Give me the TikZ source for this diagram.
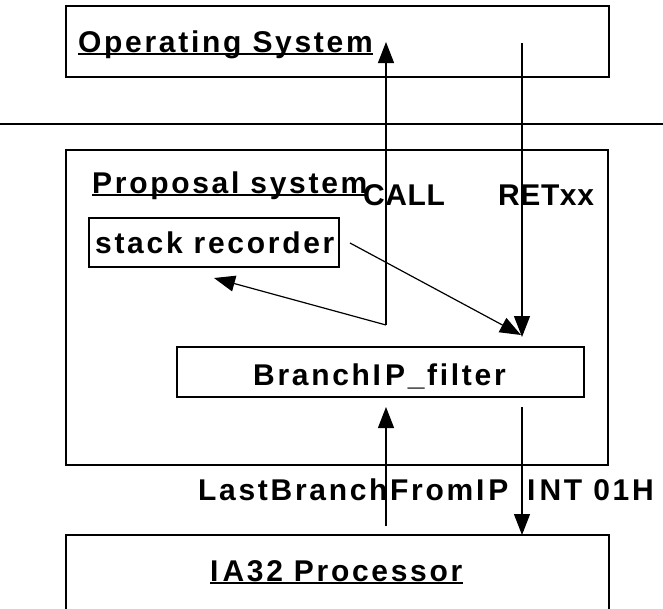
\documentclass[tikz,border=0pt]{standalone}
\usepackage{fontspec}
\setmainfont{Liberation Sans}[LetterSpace=9]
\usetikzlibrary{arrows.meta}
% the capital I of this face carries a wide advance
\newcommand{\wideI}{I\kern4pt}
\tikzset{
  box/.style={draw, line width=1.2pt, inner sep=0pt},
  label/.style={inner sep=0pt, anchor=base west, font=\bfseries\fontsize{30}{34}\selectfont},
  tight/.style={label, font=\bfseries\fontsize{30}{34}\selectfont\addfontfeature{LetterSpace=2}},
  uline/.style={line width=1.3pt},
  arr/.style={line width=1.2pt, -{Triangle[length=21pt,width=16pt]}},
  plain/.style={line width=1.2pt}
}
\begin{document}
\begin{tikzpicture}[x=1pt,y=-1pt]
\useasboundingbox (0,0) rectangle (663,608);

% boxes
\node[box, minimum width=543pt, minimum height=71pt] (osbox) at (337.5,41.5) {};
\node[box, minimum width=542pt, minimum height=315pt] (propbox) at (337,307.5) {};
\node[box, minimum width=250pt, minimum height=49pt] (stackbox) at (214,242.5) {};
\node[box, minimum width=407pt, minimum height=50pt] (filterbox) at (380.5,372) {};
\node[box, minimum width=543pt, minimum height=90pt] (cpubox) at (337.5,580) {};

% divider between user and kernel side
\coordinate (divL) at (0,124);
\coordinate (divR) at (663,124);
\draw[plain] (divL) -- (divR);

% texts
\node[label] (ostxt) at (78,52) {Operating System};
\draw[uline] ([yshift=-2pt]ostxt.base west) -- ([yshift=-2pt]ostxt.base east);
\node[label] (proptxt) at (92,193) {Proposal system};
\draw[uline] ([yshift=-2pt]proptxt.base west) -- ([yshift=-2pt]proptxt.base east);
\node[tight] (calltxt) at (363,205) {CALL};
\node[tight] (rettxt) at (498,205) {RETxx};
\node[label] (stacktxt) at (95,253) {stack recorder};
\node[label] (filtertxt) at (253,385) {Branch\wideI P\_filter};
\node[label] (lbtxt) at (198,500) {LastBranchFrom\wideI P};
\node[label] (inttxt) at (527,500) {\wideI NT 01H};
\node[label] (cputxt) at (210,581) {\wideI A32 Processor};
\draw[uline] ([yshift=-2pt]cputxt.base west) -- ([yshift=-2pt]cputxt.base east);

% connector end points
\coordinate (callIn) at (386,526);
\coordinate (filterIn) at (386,407);
\coordinate (callJoin) at (386,325);
\coordinate (osIn) at (386,42);
\coordinate (stackIn) at (214,278);
\coordinate (retOut) at (522,43);
\coordinate (filterRet) at (522,337);
\coordinate (stackOut) at (350,243);
\coordinate (filterTop) at (521,335);
\coordinate (filterOut) at (522,407);
\coordinate (cpuIn) at (522,535);

% connectors
\draw[arr] (callIn) -- (filterIn);
\draw[arr] (callJoin) -- (osIn);
\draw[arr] (callJoin) -- (stackIn);
\draw[arr] (retOut) -- (filterRet);
\draw[arr] (stackOut) -- (filterTop);
\draw[arr] (filterOut) -- (cpuIn);
\end{tikzpicture}
\end{document}
